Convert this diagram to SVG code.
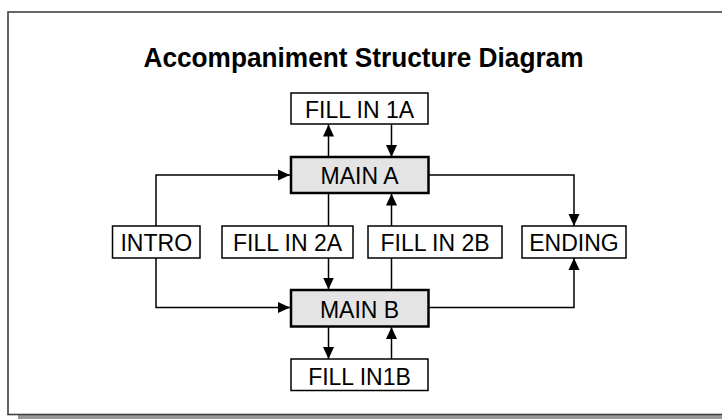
<svg xmlns="http://www.w3.org/2000/svg" width="722" height="419" viewBox="0 0 722 419">
  <style>
    .box { fill: #ffffff; stroke: #000000; stroke-width: 1.5; }
    .main { fill: #e4e4e4; stroke: #000000; stroke-width: 2.5; }
    .lbl { font-family: "Liberation Sans", Arial, sans-serif; font-size: 23px; fill: #000000; text-anchor: middle; }
    .title { font-family: "Liberation Sans", Arial, sans-serif; font-size: 28px; font-weight: bold; fill: #000000; }
    .conn { fill: none; stroke: #000000; stroke-width: 1.5; }
  </style>
  <defs>
    <marker id="arrow" viewBox="0 0 12 12" refX="12" refY="6" markerWidth="12" markerHeight="12" markerUnits="userSpaceOnUse" orient="auto">
      <path d="M0,0.5 L12,6 L0,11.5 Z" fill="#000000"/>
    </marker>
  </defs>

  <rect x="0" y="0" width="722" height="419" fill="#ffffff"/>
  <g id="frame">
    <rect x="18" y="22" width="720" height="400" fill="#999999"/>
    <rect x="8" y="12" width="720" height="402.5" fill="#ffffff" stroke="#404040" stroke-width="1.6"/>
  </g>

  <g id="title">
    <text class="title" x="143.5" y="67" textLength="440" lengthAdjust="spacingAndGlyphs">Accompaniment Structure Diagram</text>
  </g>

  <g id="connectors">
    <path class="conn" d="M156,226 V175 H290" marker-end="url(#arrow)"/>
    <path class="conn" d="M156,258 V307.5 H290" marker-end="url(#arrow)"/>
    <path class="conn" d="M429,175 H574 V226" marker-end="url(#arrow)"/>
    <path class="conn" d="M429,307.5 H574 V258" marker-end="url(#arrow)"/>
    <path class="conn" d="M328.5,157 V124.5" marker-end="url(#arrow)"/>
    <path class="conn" d="M391.5,124.5 V157" marker-end="url(#arrow)"/>
    <path class="conn" d="M328.5,193 V226"/>
    <path class="conn" d="M328.5,258 V289.5" marker-end="url(#arrow)"/>
    <path class="conn" d="M391.5,289.5 V258"/>
    <path class="conn" d="M391.5,226 V193.5" marker-end="url(#arrow)"/>
    <path class="conn" d="M328.5,326.5 V359" marker-end="url(#arrow)"/>
    <path class="conn" d="M391.5,359 V327" marker-end="url(#arrow)"/>
  </g>

  <g id="fill-in-1a">
    <rect class="box" x="291" y="93" width="137" height="31"/>
    <text class="lbl" x="359.5" y="117.5">FILL IN 1A</text>
  </g>
  <g id="main-a">
    <rect class="main" x="291" y="157" width="137.5" height="36"/>
    <text class="lbl" x="359.5" y="183.5">MAIN A</text>
  </g>
  <g id="intro">
    <rect class="box" x="112.5" y="226" width="87.5" height="32"/>
    <text class="lbl" x="156.25" y="251">INTRO</text>
  </g>
  <g id="fill-in-2a">
    <rect class="box" x="222" y="226" width="131" height="32"/>
    <text class="lbl" x="287.5" y="251">FILL IN 2A</text>
  </g>
  <g id="fill-in-2b">
    <rect class="box" x="368" y="226" width="134" height="32"/>
    <text class="lbl" x="435" y="251">FILL IN 2B</text>
  </g>
  <g id="ending">
    <rect class="box" x="522" y="226" width="104" height="32"/>
    <text class="lbl" x="574" y="251">ENDING</text>
  </g>
  <g id="main-b">
    <rect class="main" x="291" y="290" width="137.5" height="36.5"/>
    <text class="lbl" x="359.5" y="317.5">MAIN B</text>
  </g>
  <g id="fill-in-1b">
    <rect class="box" x="291" y="359" width="137" height="31.5"/>
    <text class="lbl" x="359.5" y="385">FILL IN1B</text>
  </g>
</svg>
